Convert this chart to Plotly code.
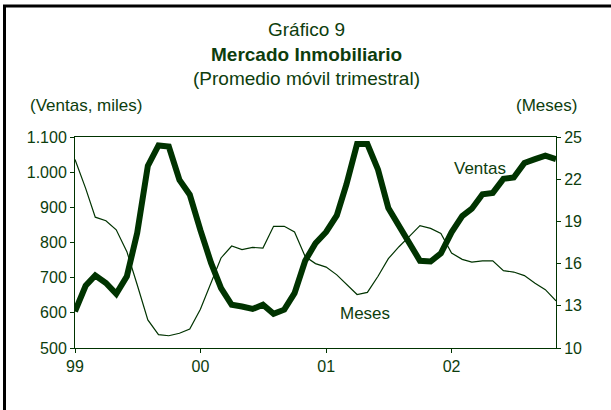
import pandas as pd
import plotly.graph_objects as go

INK = "#0d3d0d"
LINE = "#003300"
FONT = "Arial, Liberation Sans, sans-serif"

months = pd.date_range("1999-01-01", periods=47, freq="MS")

ventas = [
    604, 677, 706, 685, 654, 704, 827, 1018, 1076, 1073, 978, 936,
    835, 742, 670, 623, 618, 611, 623, 597, 609, 656, 748, 798,
    830, 877, 965, 1080, 1080, 1007, 898, 846, 794, 748, 746, 769,
    829, 875, 896, 937, 941, 981, 985, 1026, 1037, 1047, 1037,
]
meses = [
    23.4, 21.35, 19.3, 19.05, 18.4, 16.85, 14.5, 12.0, 10.95, 10.87, 11.05, 11.35,
    12.75, 14.6, 16.4, 17.25, 17.0, 17.15, 17.1, 18.65, 18.65, 18.25, 16.5, 16.0,
    15.75, 15.2, 14.5, 13.8, 13.95, 15.1, 16.35, 17.2, 17.95, 18.7, 18.5, 18.15,
    16.75, 16.3, 16.1, 16.2, 16.2, 15.5, 15.4, 15.15, 14.6, 14.15, 13.35,
]

left_ticks = [500, 600, 700, 800, 900, 1000, 1100]
right_ticks = [10, 13, 16, 19, 22, 25]

fig = go.Figure()
fig.add_trace(go.Scatter(x=months, y=meses, mode="lines", name="Meses",
                         line=dict(color=LINE, width=1.2), yaxis="y2"))
fig.add_trace(go.Scatter(x=months, y=ventas, mode="lines", name="Ventas",
                         line=dict(color=LINE, width=6)))


# plot area spans roughly x 75..556, y 137..348 px
def px_x(p):
    return (p - 75) / 481


def px_y(p):
    return (348 - p) / 211


annotations = []
for text, y in [("Gráfico 9", 29), ("<b>Mercado Inmobiliario</b>", 54),
                ("(Promedio móvil trimestral)", 78)]:
    annotations.append(dict(text=text, x=px_x(306), y=px_y(y), xanchor="center",
                            font=dict(size=19, color=INK)))
for text, x, y, anchor in [("(Ventas, miles)", 28, 105, "left"),
                           ("(Meses)", 579, 105, "right"),
                           ("Ventas", 480, 168, "center"),
                           ("Meses", 365, 313, "center")]:
    annotations.append(dict(text=text, x=px_x(x), y=px_y(y), xanchor=anchor,
                            font=dict(size=17, color=INK)))
for a in annotations:
    a.update(xref="paper", yref="paper", yanchor="middle", showarrow=False)

fig.update_layout(
    width=611,
    height=410,
    margin=dict(l=75, r=55, t=137, b=62),
    paper_bgcolor="white",
    plot_bgcolor="white",
    showlegend=False,
    separators=",.",
    font=dict(family=FONT, color=INK, size=16),
    annotations=annotations,
    shapes=[
        dict(type="line", xref="paper", yref="paper", x0=px_x(3), x1=px_x(611),
             y0=px_y(6), y1=px_y(6), line=dict(color="black", width=3)),
        dict(type="line", xref="paper", yref="paper", x0=px_x(4.5), x1=px_x(4.5),
             y0=px_y(5), y1=px_y(410), line=dict(color="black", width=3)),
    ],
    xaxis=dict(
        range=[months[0], months[-1]], tickformat="%y", dtick="M12", tick0="1999-01-01",
        showgrid=False, zeroline=False, showline=True, linecolor=LINE, linewidth=1,
        mirror=True, ticks="outside", ticklen=4, tickcolor=LINE,
    ),
    yaxis=dict(
        range=[500, 1100], tickvals=left_ticks, tickformat=",d",
        showgrid=False, zeroline=False, showline=True, linecolor=LINE, linewidth=1,
        ticks="outside", ticklen=4, tickcolor=LINE,
    ),
    yaxis2=dict(
        range=[10, 25], tickvals=right_ticks, overlaying="y", side="right",
        showgrid=False, zeroline=False, showline=True, linecolor=LINE, linewidth=1,
        ticks="outside", ticklen=4, tickcolor=LINE,
    ),
)

fig.write_html("out.html", config={"displayModeBar": False},
               post_script="document.body.style.margin = '0';")
